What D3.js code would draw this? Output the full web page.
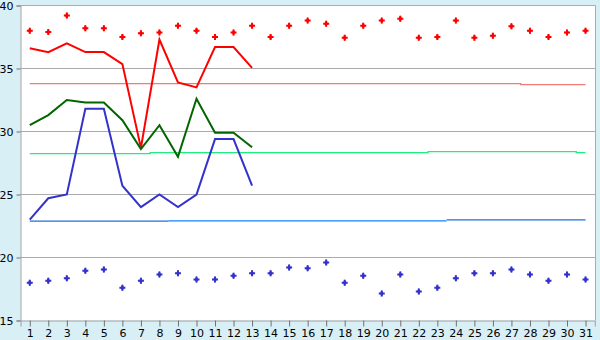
<!DOCTYPE html>
<html>
<head>
<meta charset="utf-8">
<script src="https://cdn.jsdelivr.net/npm/d3@7"></script>
<style>
  html, body { margin: 0; padding: 0; background: #D9EFF6; }
  svg { display: block; }
  text { font-family: "DejaVu Sans", Verdana, sans-serif; font-size: 11px; fill: #000; }
</style>
</head>
<body>
<svg id="chart" width="600" height="340"></svg>
<script>
// ---- data ----
const days = d3.range(1, 32);
const yTicks = [15, 20, 25, 30, 35, 40];

const maxDots = [38.0, 37.9, 39.2, 38.2, 38.2, 37.5, 37.8, 37.85, 38.4, 38.0,
                 37.5, 37.85, 38.4, 37.5, 38.4, 38.8, 38.55, 37.45, 38.4, 38.8,
                 38.95, 37.45, 37.5, 38.8, 37.45, 37.6, 38.35, 38.0, 37.5, 37.85, 38.0];
const minDots = [18.0, 18.15, 18.35, 18.95, 19.05, 17.6, 18.15, 18.65, 18.75, 18.25,
                 18.25, 18.55, 18.75, 18.75, 19.2, 19.15, 19.6, 18.0, 18.55, 17.15,
                 18.65, 17.3, 17.6, 18.35, 18.75, 18.75, 19.05, 18.65, 18.15, 18.65, 18.25];

const redLine   = [36.6, 36.3, 37.0, 36.3, 36.3, 35.35, 28.7, 37.3, 33.9, 33.5, 36.7, 36.7, 35.05];
const greenLine = [30.5, 31.3, 32.5, 32.3, 32.3, 30.9, 28.6, 30.5, 28.0, 32.6, 29.9, 29.9, 28.75];
const blueLine  = [23.0, 24.7, 25.0, 31.8, 31.8, 25.7, 24.0, 25.0, 24.0, 25.0, 29.4, 29.4, 25.7];

const pinkRef  = [33.8,33.8,33.8,33.8,33.8,33.8,33.8,33.8,33.8,33.8,33.8,33.8,33.8,33.8,33.8,
                  33.8,33.8,33.8,33.8,33.8,33.8,33.8,33.8,33.8,33.8,33.8,33.8,33.72,33.72,33.72,33.72];
const greenRef = [28.25,28.25,28.25,28.25,28.25,28.25,28.25,28.33,28.33,28.33,28.33,28.33,28.33,28.33,28.33,
                  28.33,28.33,28.33,28.33,28.33,28.33,28.33,28.41,28.41,28.41,28.41,28.41,28.41,28.41,28.41,28.33];
const blueRef  = [22.88,22.88,22.88,22.88,22.88,22.88,22.88,22.88,22.91,22.91,22.91,22.91,22.91,22.91,22.91,
                  22.91,22.91,22.91,22.91,22.91,22.91,22.91,22.91,22.99,22.99,22.99,22.99,22.99,22.99,22.99,22.99];

// ---- layout ----
const svg = d3.select("#chart");
const L = 20.5, R = 595.5, T = 5.5, B = 320.5;

const x = d3.scalePoint().domain(days).range([L, R - 0.7]).padding(0.5);
const y = d3.scaleLinear().domain([15, 40]).range([B, T]);

svg.append("rect").attr("x", L).attr("y", T).attr("width", R - L).attr("height", B - T).attr("fill", "#fff");

// gridlines
svg.append("g").selectAll("line").data(yTicks.filter(v => v > 15)).join("line")
  .attr("x1", L).attr("x2", R).attr("y1", d => y(d)).attr("y2", d => y(d))
  .attr("stroke", "#ABABAB").attr("stroke-width", 1);

// frame (right)
svg.append("line").attr("x1", R).attr("x2", R).attr("y1", T).attr("y2", B).attr("stroke", "#ABABAB");

// axes
const yAxis = svg.append("g").attr("transform", `translate(${L},0)`)
  .call(d3.axisLeft(y).tickValues(yTicks).tickSize(4).tickPadding(3));
const xAxis = svg.append("g").attr("transform", `translate(0,${B})`)
  .call(d3.axisBottom(x).tickSize(6).tickPadding(3));
[yAxis, xAxis].forEach(g => {
  g.select(".domain").attr("stroke", "#A0A0A0");
  g.selectAll(".tick line").attr("stroke", "#707070");
  g.selectAll("text").attr("font-family", "DejaVu Sans, Verdana, sans-serif").attr("font-size", 11).attr("fill", "#000");
});

// reference step lines
const step = d3.line().x((d, i) => x(days[i])).y(d => y(d)).curve(d3.curveStep);
svg.append("path").datum(pinkRef).attr("d", step).attr("fill", "none").attr("stroke", "#F47A7A").attr("stroke-width", 1.3);
svg.append("path").datum(greenRef).attr("d", step).attr("fill", "none").attr("stroke", "#1EEE82").attr("stroke-width", 1.3);

// blue ref: runs alternate between two blues
const runs = [];
blueRef.forEach((v, i) => {
  if (!runs.length || runs[runs.length - 1].v !== v) runs.push({ v, s: i, e: i });
  else runs[runs.length - 1].e = i;
});
const blueCols = ["#1C6FDC", "#0A84FF"];
runs.forEach((r, k) => {
  const x0 = r.s === 0 ? x(days[0]) : (x(days[r.s - 1]) + x(days[r.s])) / 2;
  const x1 = r.e === days.length - 1 ? x(days[r.e]) : (x(days[r.e]) + x(days[r.e + 1])) / 2;
  svg.append("line").attr("x1", x0).attr("x2", x1).attr("y1", y(r.v)).attr("y2", y(r.v))
    .attr("stroke", blueCols[k % 2]).attr("stroke-width", 1.3);
});

// main lines
const line = d3.line().x((d, i) => x(days[i])).y(d => y(d));
[[redLine, "#FF0000"], [greenLine, "#006600"], [blueLine, "#3333CC"]].forEach(([data, col]) => {
  svg.append("path").datum(data).attr("d", line).attr("fill", "none")
    .attr("stroke", col).attr("stroke-width", 2).attr("stroke-linejoin", "miter");
});

// markers: cross + diamond core
const cross = d3.symbol().type(d3.symbolCross).size(20);
const diamond = d3.symbol().type(d3.symbolDiamond).size(12);
[[maxDots, "#FF0000"], [minDots, "#3333CC"]].forEach(([data, col]) => {
  const g = svg.append("g").selectAll("g").data(data).join("g")
    .attr("transform", (d, i) => `translate(${x(days[i])},${y(d)})`);
  g.append("path").attr("d", cross).attr("fill", col);
  g.append("path").attr("d", diamond).attr("fill", col);
});
</script>
</body>
</html>
